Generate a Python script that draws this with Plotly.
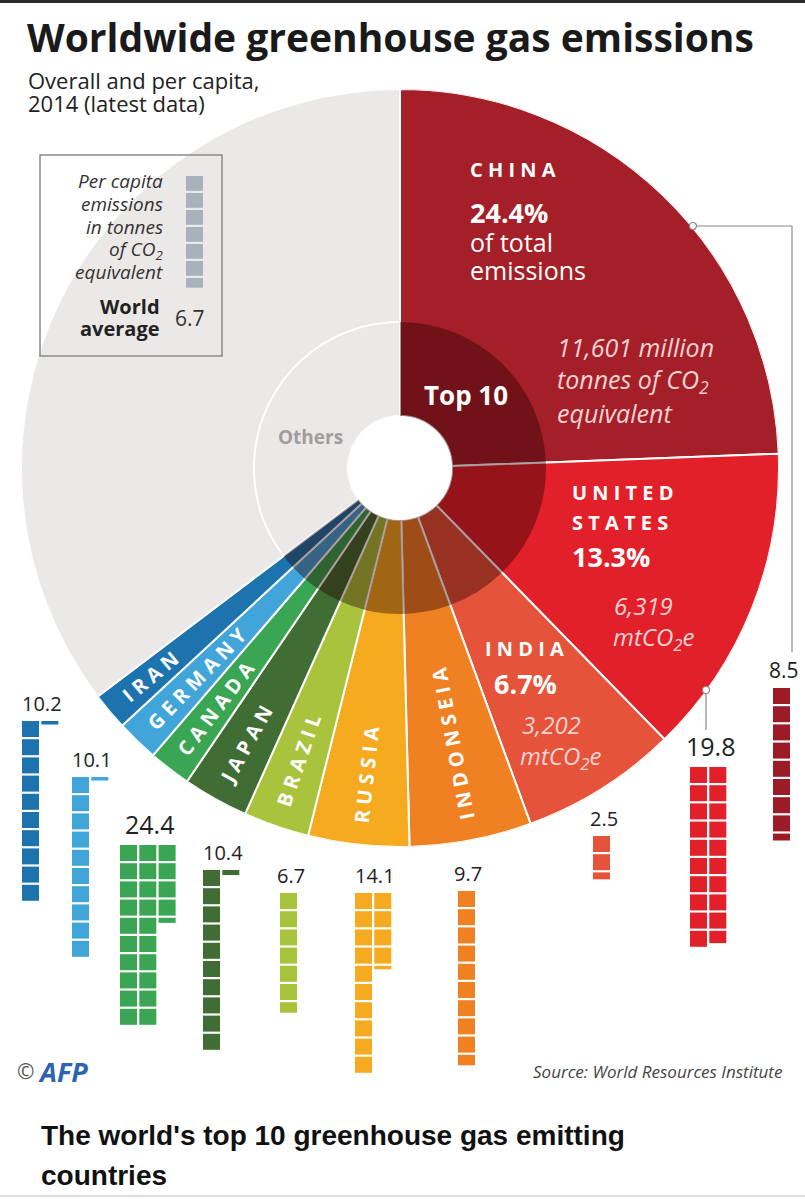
import math
import plotly.graph_objects as go

# ---------------- data ----------------
countries = ["China", "United States", "India", "Indonesia", "Russia",
             "Brazil", "Japan", "Canada", "Germany", "Iran", "Others"]
slice_labels = ["CHINA", "UNITED STATES", "INDIA", "INDONSEIA", "RUSSIA",
                "BRAZIL", "JAPAN", "CANADA", "GERMANY", "IRAN", "Others"]
share_pct = [24.4, 13.3, 6.7, 5.2, 4.3, 2.8, 2.8, 1.8, 1.8, 1.6, 35.3]
emissions_mt = [11601, 6319, 3202]          # China, United States, India
per_capita = [8.5, 19.8, 2.5, 9.7, 14.1, 6.7, 10.4, 24.4, 10.1, 10.2]
world_average = 6.7

# ---------------- style / layout ----------------
W, H = 805, 1199
FONT = "Open Sans"
slice_colors = ["#a51f28", "#e2202a", "#e4533a", "#ef8123", "#f5aa20",
                "#a9c33d", "#3f6d34", "#3aa654", "#41a5da", "#1d73ad", "#ebe8e8"]
bar_colors = ["#9b1c26", "#e2202a", "#e4533a", "#ef8123", "#f5aa20",
              "#a9c33d", "#3f6d34", "#3aa654", "#41a5da", "#1d73ad"]
legend_color = "#a7b2bd"

CX, CY, R, HOLE, RING = 400, 468, 379, 52, 146
ring_frac = (RING - HOLE) / (R - HOLE)

# waffle placement (pixel, top-left of first column)
waffle_x = [773, 690, 593, 458, 355, 280, 203, 120, 72, 22]
waffle_y = [688, 767, 836, 891, 893, 893, 870, 845, 777, 721]
UNIT, COLW, PITCH, GAP = 18.2, 17, 19.3, 2.2
value_font = [21, 25, 20, 20, 20, 20, 20, 25, 20, 20]


def PX(x):
    return x / W


def PY(y):
    return 1 - y / H


def ann(text, x, y, size, color="white", bold=False, italic=False,
        xanchor="left", yanchor="middle", angle=0, family=FONT):
    t = text
    if bold:
        t = f"<b>{t}</b>"
    if italic:
        t = f"<i>{t}</i>"
    return dict(text=t, x=PX(x), y=PY(y), xref="paper", yref="paper",
                showarrow=False, xanchor=xanchor, yanchor=yanchor,
                textangle=angle, borderpad=0,
                font=dict(family=family, size=size, color=color))


def spaced(s):
    return " ".join(s)


# ---------------- slice angles ----------------
mids, widths = [], []
cum = 0.0
for s in share_pct:
    w = s * 3.6
    mids.append(cum + w / 2)
    widths.append(w)
    cum += w

fig = go.Figure()

fig.add_trace(go.Barpolar(
    r=[1] * len(share_pct), theta=mids, width=widths,
    marker=dict(color=slice_colors, line=dict(color="white", width=2)),
    hoverinfo="skip", showlegend=False))

fig.add_trace(go.Barpolar(
    r=[ring_frac] * 10, theta=mids[:10], width=widths[:10],
    marker=dict(color="rgba(35,0,0,0.40)", line=dict(width=0)),
    hoverinfo="skip", showlegend=False))

o_start = mids[10] - widths[10] / 2
arc_theta = [o_start + widths[10] * i / 80 for i in range(81)]
fig.add_trace(go.Scatterpolar(
    r=[ring_frac] * len(arc_theta), theta=arc_theta, mode="lines",
    line=dict(color="white", width=2), hoverinfo="skip", showlegend=False))


# ---------------- per-capita waffles ----------------
def waffle_cells(value, x0, y0, unit):
    cells = []   # (x_center, top, length)
    ncols = math.ceil(round(value / 10, 6))
    for c in range(ncols):
        colv = round(min(10, value - 10 * c), 6)
        for k in range(math.ceil(colv)):
            h = min(1, colv - k)
            cells.append((x0 + c * PITCH + COLW / 2, y0 + k * unit,
                          max(h * unit - GAP, 3.5)))
    return cells


annotations = []
for i, v in enumerate(per_capita):
    cells = waffle_cells(v, waffle_x[i], waffle_y[i], UNIT)
    fig.add_trace(go.Bar(
        x=[c[0] for c in cells], y=[c[2] for c in cells],
        base=[c[1] for c in cells], width=COLW,
        marker=dict(color=bar_colors[i], line=dict(width=0)),
        hoverinfo="skip", showlegend=False, xaxis="x", yaxis="y"))
    ncols = math.ceil(round(v / 10, 6))
    grp_w = (ncols - 1) * PITCH + COLW
    annotations.append(ann(f"{v}", waffle_x[i] + grp_w / 2 + 2, waffle_y[i] - 3,
                           value_font[i], color="#222", xanchor="center",
                           yanchor="bottom"))

# legend waffle (drawn as axis-referenced shapes so it sits above the pie)
shapes = []
for (xc, top, ln) in waffle_cells(world_average, 186, 176, 17):
    shapes.append(dict(type="rect", xref="x", yref="y", layer="above",
                       x0=xc - COLW / 2, x1=xc + COLW / 2, y0=top, y1=top + ln,
                       fillcolor=legend_color, line=dict(width=0)))

# ---------------- rotated country labels ----------------
cap_w = {"A": .68, "B": .69, "C": .63, "D": .74, "E": .56, "G": .74, "H": .77,
         "I": .33, "J": .31, "L": .55, "M": .92, "N": .79, "O": .8, "P": .66,
         "R": .68, "S": .58, "T": .6, "U": .76, "Y": .62, "Z": .6}
LSIZE = 20
for i in range(3, 10):
    lab = slice_labels[i]
    est = sum(cap_w.get(ch, .65) for ch in lab) * LSIZE + (len(lab) - 1) * 5.2
    rc = 358 - est / 2
    th = math.radians(mids[i])
    x = CX + rc * math.sin(th)
    y = CY - rc * math.cos(th)
    annotations.append(ann(spaced(lab), x, y, LSIZE, bold=True,
                           xanchor="center", yanchor="middle",
                           angle=mids[i] - 270))

# ---------------- slice texts ----------------
pink = "#f6d3d3"
annotations += [
    ann(spaced(slice_labels[0]), 469, 170, 20, bold=True),
    ann(f"{share_pct[0]}%", 469, 213, 27, bold=True),
    ann("of total", 469, 242, 25),
    ann("emissions", 469, 270, 25),
    ann(f"{emissions_mt[0]:,} million", 556, 347, 25, color=pink, italic=True),
    ann("tonnes of CO<sub>2</sub>", 556, 381, 25, color=pink, italic=True),
    ann("equivalent", 556, 413, 25, color=pink, italic=True),
    ann("Top 10", 466, 395, 26, bold=True, xanchor="center"),
    ann(slice_labels[10], 310, 437, 19, color="#a19d9d", bold=True,
        xanchor="center"),
    ann(spaced(slice_labels[1].split()[0]), 571, 492, 20, bold=True),
    ann(spaced(slice_labels[1].split()[1]), 571, 523, 20, bold=True),
    ann(f"{share_pct[1]}%", 571, 556, 27, bold=True),
    ann(f"{emissions_mt[1]:,}", 613, 606, 24, color=pink, italic=True),
    ann("mtCO<sub>2</sub>e", 612, 638, 24, color=pink, italic=True),
    ann(spaced(slice_labels[2]), 484, 648, 20, bold=True),
    ann(f"{share_pct[2]}%", 493, 683, 27, bold=True),
    ann(f"{emissions_mt[2]:,}", 521, 725, 24, color=pink, italic=True),
    ann("mtCO<sub>2</sub>e", 519, 757, 24, color=pink, italic=True),
]

# ---------------- titles, legend box text, footer ----------------
annotations += [
    ann("Worldwide greenhouse gas emissions", 26, 37, 39, color="#1a1a1a",
        bold=True),
    ann("Overall and per capita,", 27, 80, 22, color="#222"),
    ann("2014 (latest data)", 27, 103, 22, color="#222"),
    ann("Per capita", 164, 181, 19, color="#333", italic=True, xanchor="right"),
    ann("emissions", 164, 204, 19, color="#333", italic=True, xanchor="right"),
    ann("in tonnes", 164, 227, 19, color="#333", italic=True, xanchor="right"),
    ann("of CO<sub>2</sub>", 164, 250, 19, color="#333", italic=True,
        xanchor="right"),
    ann("equivalent", 164, 272, 19, color="#333", italic=True, xanchor="right"),
    ann("World", 161, 306, 20, color="#222", bold=True, xanchor="right"),
    ann("average", 161, 329, 20, color="#222", bold=True, xanchor="right"),
    ann(f"{world_average}", 174, 318, 21, color="#333"),
    ann("©", 16, 1071, 21, color="#555"),
    ann("AFP", 37, 1071, 27, color="#2d63b0", bold=True, italic=True),
    ann("Source: World Resources Institute", 783, 1071, 17, color="#444",
        italic=True, xanchor="right"),
    ann("The world's top 10 greenhouse gas emitting", 40, 1135, 28,
        color="#111", bold=True, family="Liberation Sans"),
    ann("countries", 40, 1175, 28, color="#111", bold=True,
        family="Liberation Sans"),
]

# ---------------- decorative shapes ----------------
line_c = "#8a8a8a"
shapes += [
    dict(type="rect", xref="paper", yref="paper", x0=0, x1=1, y0=PY(3), y1=1,
         fillcolor="#2a2a2a", line=dict(width=0)),
    dict(type="line", xref="paper", yref="paper", x0=0, x1=1, y0=PY(1196),
         y1=PY(1196), line=dict(color="#dddddd", width=2)),
    dict(type="rect", xref="paper", yref="paper", x0=PX(40), x1=PX(222),
         y0=PY(356), y1=PY(155), line=dict(color=line_c, width=1.5)),
    dict(type="line", xref="paper", yref="paper", x0=PX(693), x1=PX(792),
         y0=PY(226), y1=PY(226), line=dict(color=line_c, width=1.2)),
    dict(type="line", xref="paper", yref="paper", x0=PX(792), x1=PX(792),
         y0=PY(226), y1=PY(652), line=dict(color=line_c, width=1.2)),
    dict(type="line", xref="paper", yref="paper", x0=PX(706), x1=PX(706),
         y0=PY(690), y1=PY(730), line=dict(color=line_c, width=1.2)),
    dict(type="circle", xref="paper", yref="paper", x0=PX(689.5), x1=PX(696.5),
         y0=PY(229.5), y1=PY(222.5), fillcolor="white",
         line=dict(color=line_c, width=1.2)),
    dict(type="circle", xref="paper", yref="paper", x0=PX(702.5), x1=PX(709.5),
         y0=PY(693.5), y1=PY(686.5), fillcolor="white",
         line=dict(color=line_c, width=1.2)),
]

fig.update_layout(
    width=W, height=H, margin=dict(l=0, r=0, t=0, b=0),
    paper_bgcolor="white", plot_bgcolor="rgba(0,0,0,0)",
    barmode="overlay", showlegend=False,
    xaxis=dict(range=[0, W], visible=False, domain=[0, 1], fixedrange=True),
    yaxis=dict(range=[H, 0], visible=False, domain=[0, 1], fixedrange=True),
    polar=dict(
        domain=dict(x=[(CX - R) / W, (CX + R) / W],
                    y=[1 - (CY + R) / H, 1 - (CY - R) / H]),
        hole=HOLE / R, bgcolor="rgba(0,0,0,0)", barmode="overlay",
        radialaxis=dict(visible=False, range=[0, 1]),
        angularaxis=dict(visible=False, rotation=90, direction="clockwise"),
    ),
    annotations=annotations, shapes=shapes,
)

fig.write_html("out.html")
